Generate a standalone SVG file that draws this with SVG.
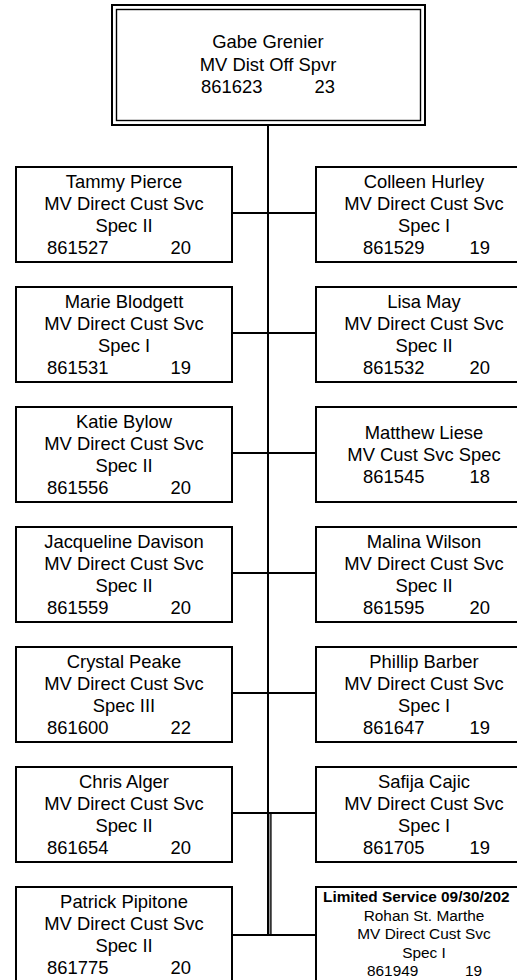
<svg xmlns="http://www.w3.org/2000/svg" width="517" height="980" viewBox="0 0 517 980">
<style>
.bg{fill:#fff}
.box{fill:#fff;stroke:#000;stroke-width:2}
.t{font-family:"Liberation Sans",Arial,sans-serif;font-size:18.4px;fill:#000;text-anchor:middle}
.s{text-anchor:start}
.e{text-anchor:end}
.sm{font-size:15.4px}
.b{font-weight:bold}
.c{stroke:#000;stroke-width:2;fill:none}
</style>
<rect class="bg" x="0" y="0" width="517" height="980"/>
<g id="connectors">
<line class="c" x1="268" y1="125" x2="268" y2="936"/>
<line x1="270.9" y1="813" x2="270.9" y2="936" stroke="#000" stroke-width="1.4"/>
<line x1="269.5" y1="813" x2="269.5" y2="935" stroke="#999" stroke-width="1"/>
<line class="c" x1="232" y1="213" x2="316" y2="213"/>
<line class="c" x1="232" y1="333" x2="316" y2="333"/>
<line class="c" x1="232" y1="453" x2="316" y2="453"/>
<line class="c" x1="232" y1="573" x2="316" y2="573"/>
<line class="c" x1="232" y1="693" x2="316" y2="693"/>
<line class="c" x1="232" y1="813" x2="316" y2="813"/>
<line class="c" x1="232" y1="935" x2="316" y2="935"/>
</g>
<g id="n0">
<rect x="112" y="5" width="313" height="120" fill="#fff" stroke="#000" stroke-width="2"/>
<rect x="116.5" y="9.5" width="304" height="111" fill="none" stroke="#000" stroke-width="1.4"/>
<text class="t" x="268" y="48">Gabe Grenier</text>
<text class="t" x="268" y="71">MV Dist Off Spvr</text>
<text class="t s" x="201" y="93">861623</text>
<text class="t e" x="335" y="93">23</text>
</g>
<g id="n1">
<rect class="box" x="16" y="167" width="216" height="95"/>
<text class="t" x="124" y="187.5">Tammy Pierce</text>
<text class="t" x="124" y="209.5">MV Direct Cust Svc</text>
<text class="t" x="124" y="231.5">Spec II</text>
<text class="t s" x="47" y="253.5">861527</text>
<text class="t e" x="191" y="253.5">20</text>
</g>
<g id="n2">
<rect class="box" x="316" y="167" width="216" height="95"/>
<text class="t" x="424" y="187.5">Colleen Hurley</text>
<text class="t" x="424" y="209.5">MV Direct Cust Svc</text>
<text class="t" x="424" y="231.5">Spec I</text>
<text class="t s" x="363" y="253.5">861529</text>
<text class="t e" x="490" y="253.5">19</text>
</g>
<g id="n3">
<rect class="box" x="16" y="287" width="216" height="95"/>
<text class="t" x="124" y="307.5">Marie Blodgett</text>
<text class="t" x="124" y="329.5">MV Direct Cust Svc</text>
<text class="t" x="124" y="351.5">Spec I</text>
<text class="t s" x="47" y="373.5">861531</text>
<text class="t e" x="191" y="373.5">19</text>
</g>
<g id="n4">
<rect class="box" x="316" y="287" width="216" height="95"/>
<text class="t" x="424" y="307.5">Lisa May</text>
<text class="t" x="424" y="329.5">MV Direct Cust Svc</text>
<text class="t" x="424" y="351.5">Spec II</text>
<text class="t s" x="363" y="373.5">861532</text>
<text class="t e" x="490" y="373.5">20</text>
</g>
<g id="n5">
<rect class="box" x="16" y="407" width="216" height="95"/>
<text class="t" x="124" y="427.5">Katie Bylow</text>
<text class="t" x="124" y="449.5">MV Direct Cust Svc</text>
<text class="t" x="124" y="471.5">Spec II</text>
<text class="t s" x="47" y="493.5">861556</text>
<text class="t e" x="191" y="493.5">20</text>
</g>
<g id="n6">
<rect class="box" x="316" y="407" width="216" height="95"/>
<text class="t" x="424" y="439">Matthew Liese</text>
<text class="t" x="424" y="461">MV Cust Svc Spec</text>
<text class="t s" x="363" y="483">861545</text>
<text class="t e" x="490" y="483">18</text>
</g>
<g id="n7">
<rect class="box" x="16" y="527" width="216" height="95"/>
<text class="t" x="124" y="547.5">Jacqueline Davison</text>
<text class="t" x="124" y="569.5">MV Direct Cust Svc</text>
<text class="t" x="124" y="591.5">Spec II</text>
<text class="t s" x="47" y="613.5">861559</text>
<text class="t e" x="191" y="613.5">20</text>
</g>
<g id="n8">
<rect class="box" x="316" y="527" width="216" height="95"/>
<text class="t" x="424" y="547.5">Malina Wilson</text>
<text class="t" x="424" y="569.5">MV Direct Cust Svc</text>
<text class="t" x="424" y="591.5">Spec II</text>
<text class="t s" x="363" y="613.5">861595</text>
<text class="t e" x="490" y="613.5">20</text>
</g>
<g id="n9">
<rect class="box" x="16" y="647" width="216" height="95"/>
<text class="t" x="124" y="667.5">Crystal Peake</text>
<text class="t" x="124" y="689.5">MV Direct Cust Svc</text>
<text class="t" x="124" y="711.5">Spec III</text>
<text class="t s" x="47" y="733.5">861600</text>
<text class="t e" x="191" y="733.5">22</text>
</g>
<g id="n10">
<rect class="box" x="316" y="647" width="216" height="95"/>
<text class="t" x="424" y="667.5">Phillip Barber</text>
<text class="t" x="424" y="689.5">MV Direct Cust Svc</text>
<text class="t" x="424" y="711.5">Spec I</text>
<text class="t s" x="363" y="733.5">861647</text>
<text class="t e" x="490" y="733.5">19</text>
</g>
<g id="n11">
<rect class="box" x="16" y="767" width="216" height="95"/>
<text class="t" x="124" y="787.5">Chris Alger</text>
<text class="t" x="124" y="809.5">MV Direct Cust Svc</text>
<text class="t" x="124" y="831.5">Spec II</text>
<text class="t s" x="47" y="853.5">861654</text>
<text class="t e" x="191" y="853.5">20</text>
</g>
<g id="n12">
<rect class="box" x="316" y="767" width="216" height="95"/>
<text class="t" x="424" y="787.5">Safija Cajic</text>
<text class="t" x="424" y="809.5">MV Direct Cust Svc</text>
<text class="t" x="424" y="831.5">Spec I</text>
<text class="t s" x="363" y="853.5">861705</text>
<text class="t e" x="490" y="853.5">19</text>
</g>
<g id="n13">
<rect class="box" x="16" y="887" width="216" height="95"/>
<text class="t" x="124" y="907.5">Patrick Pipitone</text>
<text class="t" x="124" y="929.5">MV Direct Cust Svc</text>
<text class="t" x="124" y="951.5">Spec II</text>
<text class="t s" x="47" y="973.5">861775</text>
<text class="t e" x="191" y="973.5">20</text>
</g>
<g id="n14">
<rect class="box" x="316" y="887" width="216" height="95"/>
<text class="t sm b s" x="323" y="902">Limited Service 09/30/202</text>
<text class="t sm" x="424" y="920.5">Rohan St. Marthe</text>
<text class="t sm" x="424" y="939">MV Direct Cust Svc</text>
<text class="t sm" x="424" y="957.5">Spec I</text>
<text class="t sm s" x="367" y="976">861949</text>
<text class="t sm e" x="482" y="976">19</text>
</g>
</svg>
